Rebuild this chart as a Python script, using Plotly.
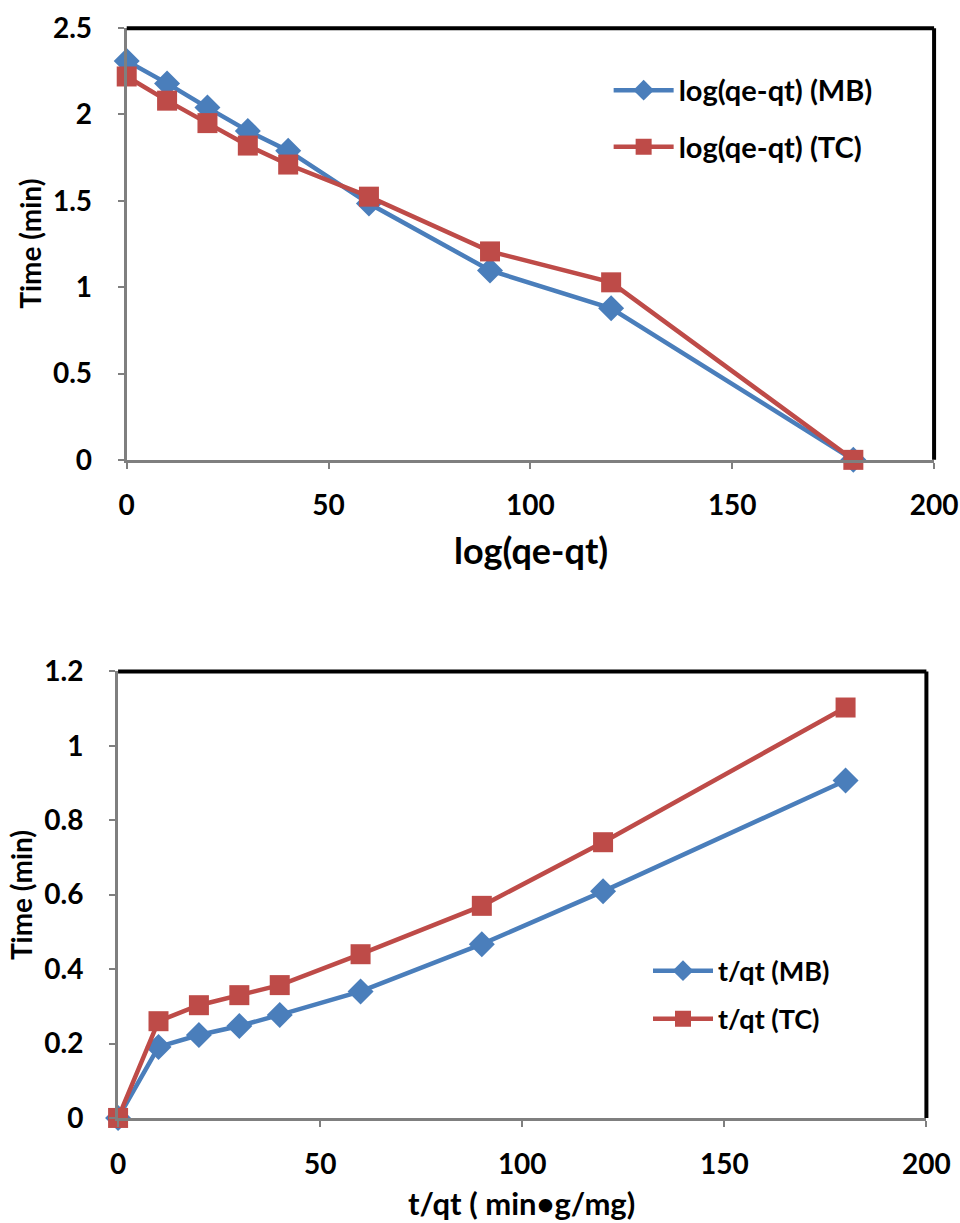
import plotly.graph_objects as go

time_pts = [0, 10, 20, 30, 40, 60, 90, 120, 180]
log_mb = [2.31, 2.18, 2.04, 1.905, 1.79, 1.484, 1.097, 0.878, 0.0]
log_tc = [2.22, 2.08, 1.95, 1.82, 1.71, 1.524, 1.207, 1.028, 0.0]
tq_mb = [0.0, 0.191, 0.223, 0.247, 0.277, 0.340, 0.467, 0.609, 0.907]
tq_tc = [0.0, 0.260, 0.303, 0.330, 0.357, 0.440, 0.570, 0.741, 1.103]

BLUE = "#4A7EBB"
RED = "#BE4B48"
FONT = "Lato"

fig = go.Figure()

def add(x, y, name, color, symbol, xa, ya, legend):
    fig.add_trace(go.Scatter(
        x=x, y=y, name=name, mode="lines+markers", legendgroup=name,
        line=dict(color=color, width=4.5),
        marker=dict(symbol=symbol, size=20, color=color),
        xaxis=xa, yaxis=ya, legend=legend, cliponaxis=False))

add(time_pts, log_mb, "log(qe-qt) (MB)", BLUE, "diamond", "x", "y", "legend")
add(time_pts, log_tc, "log(qe-qt) (TC)", RED, "square", "x", "y", "legend")
add(time_pts, tq_mb, "t/qt (MB)", BLUE, "diamond", "x2", "y2", "legend2")
add(time_pts, tq_tc, "t/qt (TC)", RED, "square", "x2", "y2", "legend2")

axis_common = dict(
    showline=True, linecolor="#7f7f7f", linewidth=3,
    ticks="outside", ticklen=6, tickcolor="#7f7f7f", tickwidth=2,
    showgrid=False, zeroline=False, automargin=False,
    tickfont=dict(family=FONT, size=28, color="black", weight="bold"),
)

fig.update_layout(
    width=960, height=1223,
    margin=dict(l=0, r=0, t=0, b=0),
    paper_bgcolor="white", plot_bgcolor="white",
    font=dict(family=FONT, color="black"),
    xaxis=dict(domain=[0.132, 0.973], range=[0, 200], dtick=50, anchor="y",
               ticklabelstandoff=13, **axis_common),
    yaxis=dict(domain=[0.624, 0.977], range=[0, 2.5], dtick=0.5, anchor="x",
               ticklabelstandoff=20, **axis_common),
    xaxis2=dict(domain=[0.123, 0.965], range=[0, 200], dtick=50, anchor="y2",
                ticklabelstandoff=13, **axis_common),
    yaxis2=dict(domain=[0.0859, 0.451], range=[0, 1.2], dtick=0.2, anchor="x2",
                ticklabelstandoff=20, **axis_common),
    legend=dict(x=0.634, y=0.947, xanchor="left", yanchor="top",
                bgcolor="rgba(0,0,0,0)", tracegroupgap=16, itemwidth=60,
                font=dict(family=FONT, size=29, weight="bold")),
    legend2=dict(x=0.675, y=0.226, xanchor="left", yanchor="top",
                 bgcolor="rgba(0,0,0,0)", tracegroupgap=10, itemwidth=60,
                 font=dict(family=FONT, size=27, weight="bold")),
    showlegend=True,
)

titles = [
    ("log(qe-qt)", 0.553, 1 - 550 / 1223, 0, 36),
    ("t/qt ( min•g/mg)", 0.543, 1 - 1203 / 1223, 0, 31),
    ("Time (min)", 0.031, 1 - 244 / 1223, -90, 28),
    ("Time (min)", 0.022, 1 - 895 / 1223, -90, 28),
]
for text, x, y, ang, sz in titles:
    fig.add_annotation(text=text, x=x, y=y, xref="paper", yref="paper",
                       xanchor="center", yanchor="middle", textangle=ang,
                       showarrow=False,
                       font=dict(family=FONT, size=sz, weight="bold", color="black"))

for xr, yr in [("x domain", "y domain"), ("x2 domain", "y2 domain")]:
    fig.add_shape(type="line", xref=xr, yref=yr, x0=0, x1=1, y0=1, y1=1,
                  line=dict(color="black", width=4))
    fig.add_shape(type="line", xref=xr, yref=yr, x0=1, x1=1, y0=0, y1=1,
                  line=dict(color="black", width=4))

fig.write_html("out.html")
